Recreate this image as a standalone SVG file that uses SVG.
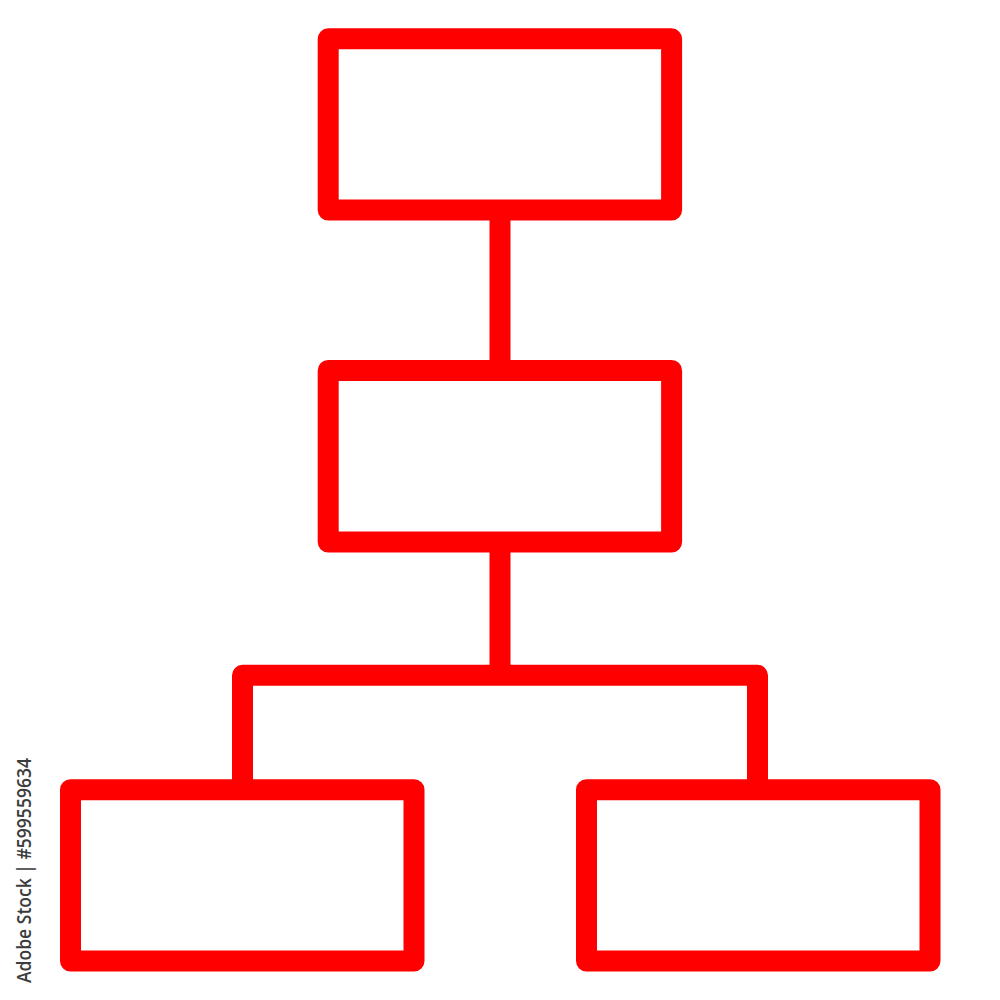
<svg xmlns="http://www.w3.org/2000/svg" width="1000" height="1000" viewBox="0 0 1000 1000">
<style>
.box{fill:none;stroke:#ff0000;stroke-width:21;stroke-linejoin:round}
.con{fill:none;stroke:#ff0000;stroke-width:21;stroke-linejoin:round}
.wm{font-family:"Open Sans","Liberation Sans",sans-serif;font-size:20px;font-weight:600;fill:#3c3c3c}
</style>
<rect width="1000" height="1000" fill="#ffffff"/>
<g id="connectors">
<line class="con" x1="500" y1="210" x2="500" y2="370.5"/>
<path class="con" d="M500 542 V675.3 M242.5 789.7 V675.3 H757.5 V789.7"/>
</g>
<g id="node-top"><rect class="box" x="328.2" y="38.8" width="343.4" height="171.2"/></g>
<g id="node-middle"><rect class="box" x="328.2" y="370.5" width="343.4" height="171.5"/></g>
<g id="node-bottom-left"><rect class="box" x="70.5" y="789.7" width="343.5" height="171.3"/></g>
<g id="node-bottom-right"><rect class="box" x="586.5" y="789.7" width="343.5" height="171.3"/></g>
<text class="wm" transform="translate(31,983) rotate(-90)" textLength="225" lengthAdjust="spacingAndGlyphs">Adobe Stock | #599559634</text>
</svg>
